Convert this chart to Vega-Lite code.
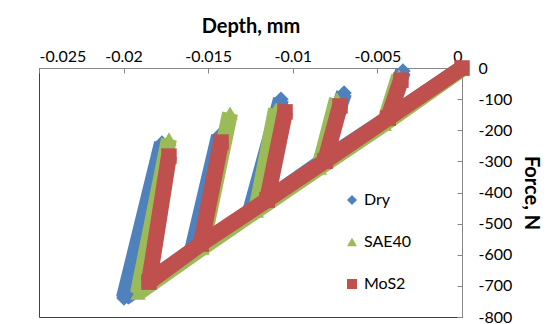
{
  "$schema": "https://vega.github.io/schema/vega-lite/v6.json",
  "width": 423,
  "height": 249,
  "autosize": {"type": "none"},
  "padding": {"left": 39, "top": 68, "right": 85, "bottom": 7},
  "background": "white",
  "config": {
    "view": {"stroke": "#404040", "strokeWidth": 1},
    "font": "Lato",
    "legend": {"labelFont": "Lato", "labelFontSize": 16, "labelColor": "#000000", "symbolSize": 100, "rowPadding": 26, "labelOffset": 4, "padding": 0}
  },
  "data": {
    "values": [
      {"series": "Dry", "seq": 1, "depth": 0, "force": 0},
      {"series": "Dry", "seq": 2, "depth": -0.00443, "force": -164},
      {"series": "Dry", "seq": 3, "depth": -0.00349, "force": -10},
      {"series": "Dry", "seq": 4, "depth": -0.00443, "force": -164},
      {"series": "Dry", "seq": 5, "depth": -0.00839, "force": -305},
      {"series": "Dry", "seq": 6, "depth": -0.00697, "force": -80},
      {"series": "Dry", "seq": 7, "depth": -0.00839, "force": -305},
      {"series": "Dry", "seq": 8, "depth": -0.01253, "force": -463},
      {"series": "Dry", "seq": 9, "depth": -0.0107, "force": -100},
      {"series": "Dry", "seq": 10, "depth": -0.01253, "force": -463},
      {"series": "Dry", "seq": 11, "depth": -0.01596, "force": -588},
      {"series": "Dry", "seq": 12, "depth": -0.01436, "force": -218},
      {"series": "Dry", "seq": 13, "depth": -0.01596, "force": -588},
      {"series": "Dry", "seq": 14, "depth": -0.01998, "force": -739},
      {"series": "Dry", "seq": 15, "depth": -0.01773, "force": -241},
      {"series": "SAE40", "seq": 1, "depth": 0, "force": -3},
      {"series": "SAE40", "seq": 2, "depth": -0.00461, "force": -180},
      {"series": "SAE40", "seq": 3, "depth": -0.00372, "force": -26},
      {"series": "SAE40", "seq": 4, "depth": -0.00461, "force": -180},
      {"series": "SAE40", "seq": 5, "depth": -0.00845, "force": -321},
      {"series": "SAE40", "seq": 6, "depth": -0.00739, "force": -100},
      {"series": "SAE40", "seq": 7, "depth": -0.00845, "force": -321},
      {"series": "SAE40", "seq": 8, "depth": -0.01217, "force": -459},
      {"series": "SAE40", "seq": 9, "depth": -0.01099, "force": -132},
      {"series": "SAE40", "seq": 10, "depth": -0.01217, "force": -459},
      {"series": "SAE40", "seq": 11, "depth": -0.01537, "force": -578},
      {"series": "SAE40", "seq": 12, "depth": -0.01371, "force": -145},
      {"series": "SAE40", "seq": 13, "depth": -0.01537, "force": -578},
      {"series": "SAE40", "seq": 14, "depth": -0.01915, "force": -723},
      {"series": "SAE40", "seq": 15, "depth": -0.01732, "force": -228},
      {"series": "MoS2", "seq": 1, "depth": 0, "force": 0},
      {"series": "MoS2", "seq": 2, "depth": -0.00437, "force": -161},
      {"series": "MoS2", "seq": 3, "depth": -0.00361, "force": -39},
      {"series": "MoS2", "seq": 4, "depth": -0.00437, "force": -161},
      {"series": "MoS2", "seq": 5, "depth": -0.0081, "force": -299},
      {"series": "MoS2", "seq": 6, "depth": -0.00721, "force": -122},
      {"series": "MoS2", "seq": 7, "depth": -0.0081, "force": -299},
      {"series": "MoS2", "seq": 8, "depth": -0.01152, "force": -424},
      {"series": "MoS2", "seq": 9, "depth": -0.01046, "force": -141},
      {"series": "MoS2", "seq": 10, "depth": -0.01152, "force": -424},
      {"series": "MoS2", "seq": 11, "depth": -0.01543, "force": -565},
      {"series": "MoS2", "seq": 12, "depth": -0.01424, "force": -238},
      {"series": "MoS2", "seq": 13, "depth": -0.01543, "force": -565},
      {"series": "MoS2", "seq": 14, "depth": -0.0185, "force": -688},
      {"series": "MoS2", "seq": 15, "depth": -0.01732, "force": -283}
    ]
  },
  "encoding": {
    "x": {
      "field": "depth", "type": "quantitative",
      "scale": {"domain": [-0.025, 0], "nice": false, "zero": false},
      "axis": {
        "orient": "top", "title": "Depth, mm", "values": [-0.025, -0.02, -0.015, -0.01, -0.005, 0],
        "format": "~g", "labelExpr": "replace(datum.label, '\u2212', '-')",
        "grid": false, "domainColor": "#868686", "tickColor": "#868686", "tickSize": -5,
        "labelPadding": 9, "labelFontSize": 16, "labelColor": "#000000", "labelFont": "Lato",
        "titleFont": "Lato", "titleFontSize": 20, "titleFontWeight": "bold", "titleColor": "#000000", "titlePadding": 12
      }
    },
    "y": {
      "field": "force", "type": "quantitative",
      "scale": {"domain": [-800, 0], "nice": false, "zero": false},
      "axis": {
        "orient": "right", "title": "Force, N", "values": [-800, -700, -600, -500, -400, -300, -200, -100, 0],
        "format": "d", "labelExpr": "replace(datum.label, '\u2212', '-')",
        "grid": false, "domainColor": "#868686", "tickColor": "#868686", "tickSize": -5,
        "labelPadding": 21, "labelFontSize": 16, "labelColor": "#000000", "labelFont": "Lato",
        "titleFont": "Lato", "titleFontSize": 20, "titleFontWeight": "bold", "titleColor": "#000000", "titlePadding": 9
      }
    },
    "order": {"field": "seq", "type": "quantitative"}
  },
  "layer": [
    {"transform": [{"filter": "datum.series === 'Dry'"}], "mark": {"type": "line", "color": "#4F81BD", "strokeWidth": 16, "strokeJoin": "bevel", "strokeCap": "butt"}, "encoding": {}},
    {"transform": [{"filter": "datum.series === 'Dry'"}], "mark": {"type": "point", "filled": true, "opacity": 1, "size": 240},
      "encoding": {
        "color": {"field": "series", "type": "nominal", "scale": {"domain": ["Dry", "SAE40", "MoS2"], "range": ["#4F81BD", "#9BBB59", "#C0504D"]}, "legend": {"title": null, "orient": "none", "legendX": 305, "legendY": 124}},
        "shape": {"field": "series", "type": "nominal", "scale": {"domain": ["Dry", "SAE40", "MoS2"], "range": ["diamond", "triangle-up", "square"]}, "legend": {"title": null, "orient": "none", "legendX": 305, "legendY": 124}}
      }},
    {"transform": [{"filter": "datum.series === 'SAE40'"}], "mark": {"type": "line", "color": "#9BBB59", "strokeWidth": 16, "strokeJoin": "bevel", "strokeCap": "butt"}, "encoding": {}},
    {"transform": [{"filter": "datum.series === 'SAE40'"}], "mark": {"type": "point", "filled": true, "opacity": 1, "size": 240},
      "encoding": {
        "color": {"field": "series", "type": "nominal"},
        "shape": {"field": "series", "type": "nominal"}
      }},
    {"transform": [{"filter": "datum.series === 'MoS2'"}], "mark": {"type": "line", "color": "#C0504D", "strokeWidth": 16, "strokeJoin": "bevel", "strokeCap": "butt"}, "encoding": {}},
    {"transform": [{"filter": "datum.series === 'MoS2'"}], "mark": {"type": "point", "filled": true, "opacity": 1, "size": 240},
      "encoding": {
        "color": {"field": "series", "type": "nominal"},
        "shape": {"field": "series", "type": "nominal"}
      }}
  ]
}
